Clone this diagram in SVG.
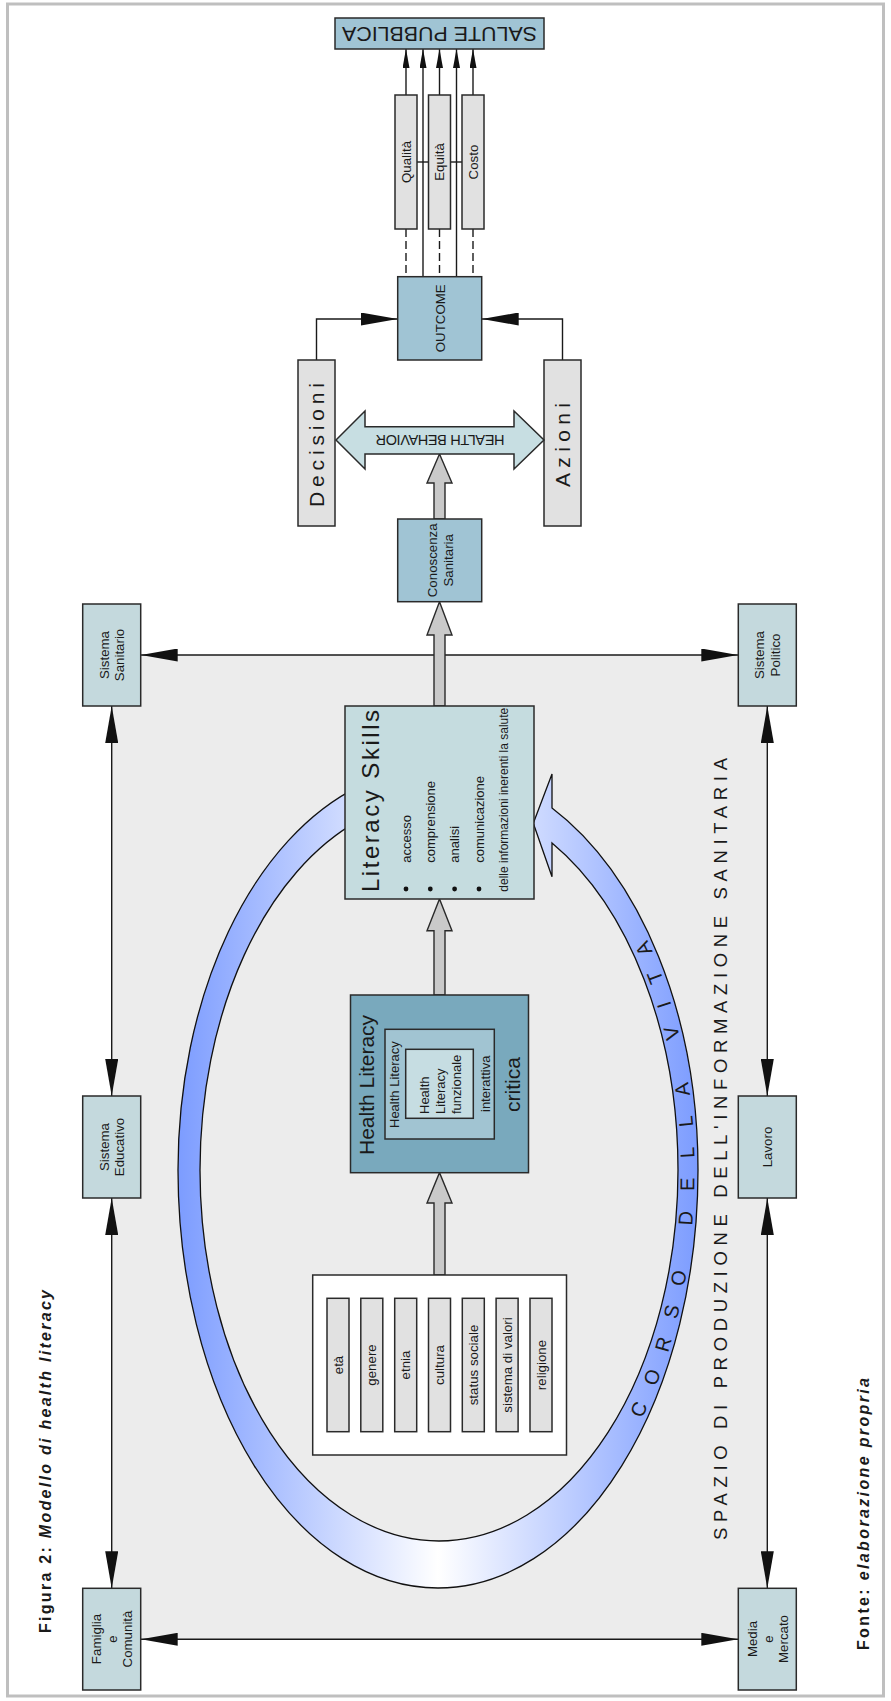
<svg xmlns="http://www.w3.org/2000/svg" width="891" height="1701" viewBox="0 0 891 1701">
<style>
text{font-family:"Liberation Sans",Arial,sans-serif;fill:#1a1a1a}
.box{stroke:#2a2a2a;stroke-width:1.5}
.lb{fill:#c4d9dd}
.mb{fill:#a0c4d4}
.gb{fill:#e1e1e1}
.ln{stroke:#1a1a1a;stroke-width:1.4;fill:none}
.blk{fill:#c9c9c9;stroke:#2a2a2a;stroke-width:1.4}
.s13{font-size:13.3px}
</style>
<defs>
<marker id="ah" markerUnits="userSpaceOnUse" markerWidth="37" markerHeight="13" viewBox="0 0 37 13" refX="37" refY="6.5" orient="auto-start-reverse"><path d="M0,0 L37,6.5 L0,13 Z" fill="#111"/></marker>
<marker id="ahs" markerUnits="userSpaceOnUse" markerWidth="19" markerHeight="7" viewBox="0 0 19 7" refX="19" refY="3.5" orient="auto"><path d="M0,0 L19,3.5 L0,7 Z" fill="#111"/></marker>
<linearGradient id="ringGrad" gradientUnits="userSpaceOnUse" x1="178" y1="0" x2="698" y2="0">
<stop offset="0" stop-color="#7c9cff"/><stop offset="0.5" stop-color="#ffffff"/><stop offset="1" stop-color="#7c9cff"/>
</linearGradient>
<path id="vitaPath" d="M 438.5 1580 A 256 410 0 0 0 694.5 1170 A 256 397 0 0 0 438.5 773"/>
</defs>

<rect x="7.5" y="4" width="876" height="1692" fill="#ffffff" stroke="#bfbfbf" stroke-width="3"/>
<rect id="spazio-bg" x="111.7" y="655" width="655.6" height="984.3" fill="#ececec"/>

<g id="titolo">
<text transform="translate(50.7,1633) rotate(-90)" font-size="16" font-weight="bold" textLength="343" lengthAdjust="spacing">Figura 2: <tspan font-style="italic">Modello di health literacy</tspan></text>
</g>
<g id="fonte">
<text transform="translate(869,1650) rotate(-90)" font-size="16" font-weight="bold" textLength="272" lengthAdjust="spacing">Fonte: <tspan font-style="italic">elaborazione propria</tspan></text>
</g>
<g id="spazio-label">
<text transform="translate(727,1540) rotate(-90)" font-size="18.5" textLength="782" lengthAdjust="spacing" fill="#222">SPAZIO DI PRODUZIONE DELL'INFORMAZIONE SANITARIA</text>
</g>

<g id="connectors">
<line class="ln" x1="140.7" y1="655" x2="738.3" y2="655" marker-start="url(#ah)" marker-end="url(#ah)"/>
<line class="ln" x1="140.7" y1="1639.3" x2="738.3" y2="1639.3" marker-start="url(#ah)" marker-end="url(#ah)"/>
<line class="ln" x1="111.7" y1="706" x2="111.7" y2="1096" marker-start="url(#ah)" marker-end="url(#ah)"/>
<line class="ln" x1="111.7" y1="1198" x2="111.7" y2="1588.3" marker-start="url(#ah)" marker-end="url(#ah)"/>
<line class="ln" x1="767.3" y1="706" x2="767.3" y2="1096" marker-start="url(#ah)" marker-end="url(#ah)"/>
<line class="ln" x1="767.3" y1="1198" x2="767.3" y2="1588.3" marker-start="url(#ah)" marker-end="url(#ah)"/>
<path class="ln" d="M316.5,360 V319 H397.7" marker-end="url(#ah)"/>
<path class="ln" d="M562.5,360 V319 H481.7" marker-end="url(#ah)"/>
<line class="ln" x1="423" y1="276.7" x2="423" y2="49" marker-end="url(#ahs)"/>
<line class="ln" x1="456.5" y1="276.7" x2="456.5" y2="49" marker-end="url(#ahs)"/>
<line class="ln" x1="406" y1="95" x2="406" y2="49" marker-end="url(#ahs)"/>
<line class="ln" x1="439.5" y1="95" x2="439.5" y2="49" marker-end="url(#ahs)"/>
<line class="ln" x1="473" y1="95" x2="473" y2="49" marker-end="url(#ahs)"/>
<line class="ln" x1="406" y1="229" x2="406" y2="276.7" stroke-dasharray="8 4"/>
<line class="ln" x1="439.5" y1="229" x2="439.5" y2="276.7" stroke-dasharray="8 4"/>
<line class="ln" x1="473" y1="229" x2="473" y2="276.7" stroke-dasharray="8 4"/>
<line class="ln" x1="417" y1="162" x2="428" y2="162"/>
<line class="ln" x1="450" y1="162" x2="462" y2="162"/>
<polygon class="blk" points="434,1275 434,1203 427,1203 439.5,1172.7 452,1203 445,1203 445,1275"/>
<polygon class="blk" points="434,995 434,930.7 427,930.7 439.5,899 452,930.7 445,930.7 445,995"/>
<polygon class="blk" points="434,706 434,635 427,635 439.5,601.7 452,635 445,635 445,706"/>
<polygon class="blk" points="434,519 434,483 427,483 439.5,454 452,483 445,483 445,519"/>
</g>

<g id="corso-della-vita">
<path d="M 552 808 A 260 402.7 0 0 1 698 1170 A 260 418 0 0 1 178 1170 A 260 402.7 0 0 1 360 785.8 L 360 819.9 A 239 371 0 0 0 200 1170 A 239 371 0 0 0 678 1170 A 239 371 0 0 0 552 843 L 552 876.7 L 533.3 823.3 L 552 774 Z" fill="url(#ringGrad)" stroke="#111" stroke-width="1.3"/>
<text font-size="20" letter-spacing="20.2"><textPath href="#vitaPath" startOffset="274">CORSO DELLA VITA</textPath></text>
</g>

<g id="salute-pubblica">
<rect class="box mb" x="335" y="18" width="209" height="31"/>
<text transform="translate(439.5,33.5) rotate(180)" y="7" text-anchor="middle" font-size="20" textLength="195" lengthAdjust="spacingAndGlyphs">SALUTE PUBBLICA</text>
</g>
<g id="qualita">
<rect class="box gb" x="395" y="95" width="22" height="134"/>
<text class="s13" transform="translate(410.5,162) rotate(-90)" text-anchor="middle">Qualità</text>
</g>
<g id="equita">
<rect class="box gb" x="428.5" y="95" width="22" height="134"/>
<text class="s13" transform="translate(444,162) rotate(-90)" text-anchor="middle">Equità</text>
</g>
<g id="costo">
<rect class="box gb" x="462" y="95" width="22" height="134"/>
<text class="s13" transform="translate(477.5,162) rotate(-90)" text-anchor="middle">Costo</text>
</g>
<g id="outcome">
<rect class="box mb" x="397.7" y="276.7" width="84" height="83.3"/>
<text class="s13" transform="translate(444.5,318.3) rotate(-90)" text-anchor="middle">OUTCOME</text>
</g>
<g id="decisioni">
<rect class="box gb" x="298" y="360" width="37" height="166"/>
<text transform="translate(324,445) rotate(-90)" text-anchor="middle" font-size="21" textLength="124" lengthAdjust="spacing">Decisioni</text>
</g>
<g id="azioni">
<rect class="box gb" x="544" y="360" width="37" height="166"/>
<text transform="translate(570,445) rotate(-90)" text-anchor="middle" font-size="21" textLength="84" lengthAdjust="spacing">Azioni</text>
</g>
<g id="health-behavior">
<polygon class="box" fill="#c7dee2" points="336,440 365,411 365,426.7 514,426.7 514,411 544,440 514,469 514,454 365,454 365,469"/>
<text transform="translate(440,440) rotate(180)" y="5.2" text-anchor="middle" font-size="14.5" textLength="129" lengthAdjust="spacing">HEALTH BEHAVIOR</text>
</g>
<g id="conoscenza-sanitaria">
<rect class="box mb" x="397.7" y="519" width="84" height="82.7"/>
<text class="s13" transform="translate(439.7,560.3) rotate(-90)" text-anchor="middle"><tspan x="0" y="-3.2">Conoscenza</tspan><tspan x="0" y="13.1">Sanitaria</tspan></text>
</g>
<g id="literacy-skills">
<rect class="box" fill="#c5dcdf" x="345" y="706" width="189" height="193"/>
<text transform="translate(379,892) rotate(-90)" font-size="24" textLength="182" lengthAdjust="spacing">Literacy Skills</text>
<circle cx="406" cy="889" r="2.4" fill="#111"/>
<circle cx="430.3" cy="889" r="2.4" fill="#111"/>
<circle cx="454.6" cy="889" r="2.4" fill="#111"/>
<circle cx="479" cy="889" r="2.4" fill="#111"/>
<text font-size="13" transform="translate(410.7,862.7) rotate(-90)">accesso</text>
<text font-size="13" transform="translate(435,862.7) rotate(-90)">comprensione</text>
<text font-size="13" transform="translate(459.3,862.7) rotate(-90)">analisi</text>
<text font-size="13" transform="translate(483.8,862.7) rotate(-90)">comunicazione</text>
<text font-size="12" transform="translate(508.3,891.7) rotate(-90)" textLength="184" lengthAdjust="spacingAndGlyphs">delle informazioni inerenti la salute</text>
</g>
<g id="health-literacy">
<rect class="box" fill="#79a9bd" x="350.5" y="995" width="178" height="177.7"/>
<rect class="box" fill="#a1c4d2" x="385" y="1029.3" width="109.3" height="109.7"/>
<rect class="box" fill="#c6dde2" x="405.7" y="1049.3" width="67.6" height="69"/>
<text transform="translate(374,1155) rotate(-90)" font-size="21">Health Literacy</text>
<text transform="translate(399,1128) rotate(-90)" font-size="13">Health Literacy</text>
<text transform="translate(429,1114) rotate(-90)" font-size="13">Health</text>
<text transform="translate(445,1114) rotate(-90)" font-size="13">Literacy</text>
<text transform="translate(461,1114) rotate(-90)" font-size="13">funzionale</text>
<text transform="translate(490,1112) rotate(-90)" font-size="13">interattiva</text>
<text transform="translate(520,1112) rotate(-90)" font-size="21">critica</text>
</g>
<g id="fattori">
<rect class="box" fill="#ffffff" x="312.7" y="1275" width="253.8" height="180"/>
<rect class="box gb" x="327" y="1298.3" width="22" height="133.4"/>
<rect class="box gb" x="360.8" y="1298.3" width="22" height="133.4"/>
<rect class="box gb" x="394.7" y="1298.3" width="22" height="133.4"/>
<rect class="box gb" x="428.5" y="1298.3" width="22" height="133.4"/>
<rect class="box gb" x="462.3" y="1298.3" width="22" height="133.4"/>
<rect class="box gb" x="496.1" y="1298.3" width="22" height="133.4"/>
<rect class="box gb" x="530" y="1298.3" width="22" height="133.4"/>
<text class="s13" transform="translate(342.5,1365) rotate(-90)" text-anchor="middle">età</text>
<text class="s13" transform="translate(376.3,1365) rotate(-90)" text-anchor="middle">genere</text>
<text class="s13" transform="translate(410.2,1365) rotate(-90)" text-anchor="middle">etnia</text>
<text class="s13" transform="translate(444,1365) rotate(-90)" text-anchor="middle">cultura</text>
<text class="s13" transform="translate(477.8,1365) rotate(-90)" text-anchor="middle">status sociale</text>
<text class="s13" transform="translate(511.6,1365) rotate(-90)" text-anchor="middle">sistema di valori</text>
<text class="s13" transform="translate(545.5,1365) rotate(-90)" text-anchor="middle">religione</text>
</g>
<g id="sistema-sanitario">
<rect class="box lb" x="82.7" y="604" width="58" height="102"/>
<text class="s13" transform="translate(111.7,655) rotate(-90)" text-anchor="middle"><tspan x="0" y="-3.2">Sistema</tspan><tspan x="0" y="12.8">Sanitario</tspan></text>
</g>
<g id="sistema-educativo">
<rect class="box lb" x="82.7" y="1096" width="58" height="102"/>
<text class="s13" transform="translate(111.7,1147) rotate(-90)" text-anchor="middle"><tspan x="0" y="-3.2">Sistema</tspan><tspan x="0" y="12.8">Educativo</tspan></text>
</g>
<g id="famiglia-comunita">
<rect class="box lb" x="82.7" y="1588.3" width="58" height="101.7"/>
<text class="s13" transform="translate(111.7,1639) rotate(-90)" text-anchor="middle"><tspan x="0" y="-10.3">Famiglia</tspan><tspan x="0" y="5.2">e</tspan><tspan x="0" y="20.7">Comunità</tspan></text>
</g>
<g id="sistema-politico">
<rect class="box lb" x="738.3" y="604" width="58" height="102"/>
<text class="s13" transform="translate(767.3,655) rotate(-90)" text-anchor="middle"><tspan x="0" y="-3.2">Sistema</tspan><tspan x="0" y="12.8">Politico</tspan></text>
</g>
<g id="lavoro">
<rect class="box lb" x="738.3" y="1096" width="58" height="102"/>
<text class="s13" transform="translate(767.3,1147) rotate(-90)" text-anchor="middle" y="4.8">Lavoro</text>
</g>
<g id="media-mercato">
<rect class="box lb" x="738.3" y="1588.3" width="58" height="101.7"/>
<text class="s13" transform="translate(767.3,1639) rotate(-90)" text-anchor="middle"><tspan x="0" y="-10.3">Media</tspan><tspan x="0" y="5.2">e</tspan><tspan x="0" y="20.7">Mercato</tspan></text>
</g>
</svg>
